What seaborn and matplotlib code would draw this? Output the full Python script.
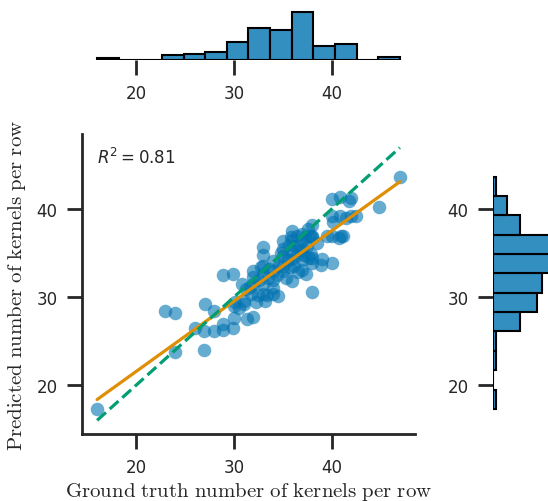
import pandas as pd
import seaborn as sns
import matplotlib.pyplot as plt

truth = [16.0, 23.0, 24.0, 24.0, 26.0, 26.9, 27.0, 26.9, 28.0, 28.0, 28.9, 28.9, 28.9,
         29.9, 29.9, 30.0, 30.0, 30.1, 30.5, 30.8, 31.0, 31.0, 31.2, 31.3,
         32.0, 31.8, 32.0, 32.0, 32.0, 32.3, 32.5, 32.6, 32.8, 33.0, 33.0, 33.0, 33.0,
         33.0, 33.0, 33.2, 33.4, 33.5, 33.6, 31.7,
         34.0, 34.0, 34.0, 34.0, 34.0, 34.4, 34.5, 34.6, 34.8, 35.0, 35.0, 35.0, 35.0,
         35.0, 35.3, 35.5, 35.6, 35.8, 35.9,
         36.0, 36.0, 36.0, 36.0, 36.0, 36.2, 36.3, 36.5, 36.5, 36.6, 36.8, 37.0, 37.0,
         37.0, 37.0, 37.0, 37.2, 37.3, 37.4, 37.5, 37.6, 37.7, 37.8, 38.0, 38.0, 38.0,
         38.0, 38.0, 38.0, 37.9,
         38.5, 38.9, 39.0, 39.5, 40.0, 40.0, 40.1, 40.1, 40.2,
         40.9, 40.9, 41.0, 41.2, 42.0, 42.0, 42.5, 41.5, 40.8, 41.8,
         44.9, 47.0]
predicted = [17.3, 28.4, 28.2, 23.8, 26.5, 24.0, 29.2, 26.2, 28.4, 26.2, 26.3, 26.9, 32.5,
             32.6, 26.5, 27.6, 29.0, 29.5, 28.8, 31.5, 29.2, 29.6, 30.9, 27.5,
             27.8, 30.4, 31.5, 32.3, 33.0, 29.5, 30.2, 32.0, 33.4, 30.4, 31.5, 32.6, 33.6,
             34.8, 35.7, 29.6, 30.3, 32.2, 33.2, 31.2,
             30.4, 31.1, 31.9, 33.0, 34.1, 32.5, 30.1, 33.6, 35.0, 33.0, 33.6, 34.7, 35.5,
             36.4, 32.2, 34.2, 35.9, 33.4, 36.8,
             31.8, 34.3, 35.2, 36.5, 37.5, 33.5, 35.8, 34.8, 36.9, 32.9, 35.4, 33.1, 34.2,
             35.5, 36.4, 37.2, 34.8, 36.8, 32.6, 35.8, 37.8, 34.5, 37.0, 30.6, 33.9, 34.4,
             36.8, 37.0, 38.2, 34.95,
             36.2, 33.7, 34.3, 36.9, 33.9, 37.0, 39.2, 41.2, 38.6,
             41.4, 39.25, 36.9, 37.0, 41.3, 39.25, 39.2, 39.0, 36.7, 40.9,
             40.3, 43.7]
r2_text = r"$R^2 = 0.81$"
ticks = [20, 30, 40]

df = pd.DataFrame({"truth": truth, "predicted": predicted})

sns.set_theme(style="ticks")
plt.rcParams.update({
    "font.family": ["DejaVu Sans"],
    "axes.edgecolor": ".15",
    "axes.linewidth": 2,
})

blue, orange, green = "#0173b2", "#de8f05", "#029e73"

fig = plt.figure(figsize=(5.48, 5.02), dpi=100)
ax = fig.add_axes([0.1496, 0.1335, 0.6077, 0.5976])
ax_top = fig.add_axes([0.1496, 0.8785, 0.6077, 0.1004], sharex=ax)
ax_right = fig.add_axes([0.8996, 0.1335, 0.11, 0.5976], sharey=ax)

# scatter + fitted line + identity line
sns.scatterplot(data=df, x="truth", y="predicted", ax=ax, color=blue,
                alpha=0.6, s=95, linewidth=0)
sns.regplot(data=df, x="truth", y="predicted", ax=ax, scatter=False, ci=None,
            color=orange, line_kws={"lw": 2.3})
lo, hi = df["truth"].min(), df["truth"].max()
ax.plot([lo, hi], [lo, hi], ls="--", color=green, lw=2.3)

ax.text(0.045, 0.925, r2_text, transform=ax.transAxes, fontsize=12,
        va="center", color=".15")

# marginals
sns.histplot(data=df, x="truth", bins=14, ax=ax_top, color=blue, alpha=0.8,
             edgecolor="black", linewidth=1.5)
sns.histplot(data=df, y="predicted", bins=12, ax=ax_right, color=blue, alpha=0.8,
             edgecolor="black", linewidth=1.5)

ax.set_xticks(ticks)
ax.set_yticks(ticks)
sns.despine(ax=ax)
label_kw = dict(fontsize=15, color=".15", math_fontfamily="cm")
ax.set_xlabel(r"$\mathrm{Ground\ truth\ number\ of\ kernels\ per\ row}$", labelpad=3, **label_kw)
ax.set_ylabel(r"$\mathrm{Predicted\ number\ of\ kernels\ per\ row}$", labelpad=6, **label_kw)

for a in (ax_top, ax_right):
    sns.despine(ax=a, left=True, bottom=True)
    a.set_xlabel("")
    a.set_ylabel("")
for a in (ax, ax_top, ax_right):
    a.tick_params(length=10.5, width=2, pad=7, labelsize=12, color=".15",
                  labelcolor=".15")
ax_top.tick_params(left=False, labelleft=False, bottom=True, labelbottom=True)
ax_right.tick_params(bottom=False, labelbottom=False, left=True, labelleft=True)
ax_right.set_xlim(0, 22)

fig.savefig("out.png", dpi=100)
